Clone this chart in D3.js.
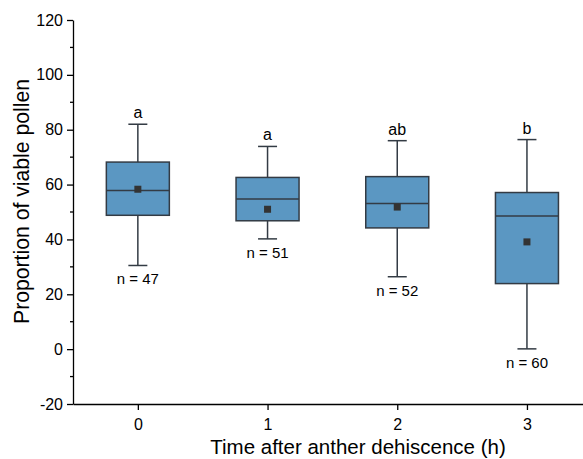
<!DOCTYPE html>
<html><head><meta charset="utf-8">
<script src="https://cdn.jsdelivr.net/npm/d3@7"></script>
<style>body{margin:0;background:#fff}svg{display:block}text{font-family:"Liberation Sans",Arial,sans-serif}</style>
</head><body>
<script>
const categories = ["0","1","2","3"];
const whiskerLow  = [30.5, 40.2, 26.4, 0.1];
const q1          = [48.8, 46.8, 44.2, 23.9];
const median      = [57.8, 54.7, 53.1, 48.5];
const q3          = [68.2, 62.6, 62.9, 57.1];
const whiskerHigh = [82.0, 73.9, 76.0, 76.4];
const means       = [58.3, 51.0, 51.8, 39.1];
const letters     = ["a","a","ab","b"];
const nLabels     = ["n = 47","n = 51","n = 52","n = 60"];
const yTicks      = [-20,0,20,40,60,80,100,120];

const W=583,H=459;
const svg=d3.select("body").append("svg").attr("width",W).attr("height",H);
const x0=73, yTop=20, yBot=404;
const x=d3.scaleLinear().domain([-0.5,3.5]).range([x0, x0+4*129.7]);
const y=d3.scaleLinear().domain([-20,120]).range([yBot,yTop]);

const g=svg.append("g");
const yAxis=d3.axisLeft(y).tickValues(yTicks).tickFormat(d=>String(d)).tickSize(6).tickSizeOuter(0).tickPadding(4);
const ya=g.append("g").attr("transform",`translate(${x0},0)`).call(yAxis);
ya.select(".domain").attr("stroke","#000").attr("stroke-width",1.3);
ya.selectAll(".tick line").attr("stroke","#000").attr("stroke-width",1.3);
ya.selectAll(".tick text").attr("font-size",16).attr("fill","#000").attr("font-family","Liberation Sans, Arial");
const minor=d3.range(-10,120,20);
g.selectAll(".ymin").data(minor).join("line").attr("x1",x0-3).attr("x2",x0)
 .attr("y1",d=>y(d)).attr("y2",d=>y(d)).attr("stroke","#000").attr("stroke-width",1.3);

const xAxis=d3.axisBottom(x).tickValues([0,1,2,3]).tickFormat((d,i)=>categories[i]).tickSize(6).tickSizeOuter(0).tickPadding(9);
const xa=g.append("g").attr("transform",`translate(0,${yBot})`).call(xAxis);
xa.select(".domain").attr("stroke","#000").attr("stroke-width",1.3);
xa.selectAll(".tick line").attr("stroke","#000").attr("stroke-width",1.3);
xa.selectAll(".tick text").attr("font-size",16).attr("fill","#000").attr("font-family","Liberation Sans, Arial");

const bw=63, cap=19;
const stroke="#333b44", fill="#5b97c2";
categories.forEach((c,i)=>{
  const cx=x(i);
  const b=svg.append("g");
  b.append("line").attr("x1",cx).attr("x2",cx).attr("y1",y(whiskerHigh[i])).attr("y2",y(q3[i])).attr("stroke",stroke).attr("stroke-width",1.5);
  b.append("line").attr("x1",cx).attr("x2",cx).attr("y1",y(q1[i])).attr("y2",y(whiskerLow[i])).attr("stroke",stroke).attr("stroke-width",1.5);
  b.append("line").attr("x1",cx-cap/2).attr("x2",cx+cap/2).attr("y1",y(whiskerHigh[i])).attr("y2",y(whiskerHigh[i])).attr("stroke",stroke).attr("stroke-width",1.5);
  b.append("line").attr("x1",cx-cap/2).attr("x2",cx+cap/2).attr("y1",y(whiskerLow[i])).attr("y2",y(whiskerLow[i])).attr("stroke",stroke).attr("stroke-width",1.5);
  b.append("rect").attr("x",cx-bw/2).attr("width",bw).attr("y",y(q3[i])).attr("height",y(q1[i])-y(q3[i]))
   .attr("fill",fill).attr("stroke",stroke).attr("stroke-width",1.5);
  b.append("line").attr("x1",cx-bw/2).attr("x2",cx+bw/2).attr("y1",y(median[i])).attr("y2",y(median[i])).attr("stroke",stroke).attr("stroke-width",1.5);
  b.append("rect").attr("x",cx-3.5).attr("y",y(means[i])-3.5).attr("width",7).attr("height",7).attr("fill","#333");
  b.append("text").attr("x",cx).attr("y",y(whiskerHigh[i])-6).attr("text-anchor","middle").attr("font-size",16).text(letters[i]);
  b.append("text").attr("x",cx).attr("y",y(whiskerLow[i])+19).attr("text-anchor","middle").attr("font-size",15).text(nLabels[i]);
});

svg.append("text").attr("x",358).attr("y",454).attr("text-anchor","middle").attr("font-size",20.5).text("Time after anther dehiscence (h)");
svg.append("text").attr("transform","translate(28.5,201.5) rotate(-90)").attr("text-anchor","middle").attr("font-size",21.2).text("Proportion of viable pollen");
</script>
</body></html>
